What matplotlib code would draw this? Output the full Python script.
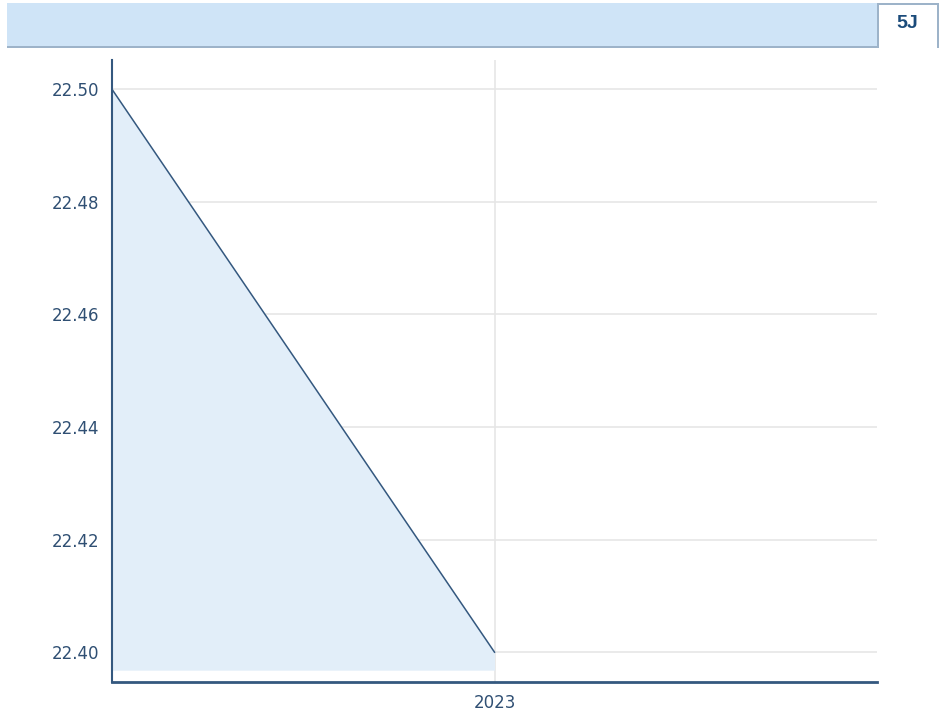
import matplotlib
matplotlib.use('Agg')
import matplotlib.pyplot as plt
from matplotlib.patches import Rectangle

# data
years = ['', '2023']
values = [22.50, 22.40]
y_ticks = [22.40, 22.42, 22.44, 22.46, 22.48, 22.50]
tab_label = '5J'

W, H = 949, 713
fig = plt.figure(figsize=(W / 100, H / 100), dpi=100)

def px(x, y, w, h):
    # pixel box (top-left origin) -> figure fraction
    return (x / W, 1 - (y + h) / H, w / W, h / H)

# header band
x0, y0, w0, h0 = px(7, 3, 870, 44)
fig.patches.append(Rectangle((x0, y0), w0, h0, transform=fig.transFigure,
                             facecolor='#cfe4f7', edgecolor='none'))
x0, y0, w0, h0 = px(7, 46, 870, 2)
fig.patches.append(Rectangle((x0, y0), w0, h0, transform=fig.transFigure,
                             facecolor='#9db3c9', edgecolor='none'))
# tab
for bx, by, bw, bh in [(877, 3, 2, 45), (877, 3, 62, 2), (937, 3, 2, 45)]:
    x0, y0, w0, h0 = px(bx, by, bw, bh)
    fig.patches.append(Rectangle((x0, y0), w0, h0, transform=fig.transFigure,
                                 facecolor='#9db3c9', edgecolor='none'))
fig.text(907 / W, 1 - 24 / H, tab_label, ha='center', va='center',
         fontsize=14, fontweight='bold', color='#1b4b7a', family='Liberation Sans')

ax = fig.add_axes([112 / W, 31 / H, (877 - 112) / W, (682 - 60) / H])
xs = list(range(len(values)))
base = 22.3968
ax.fill_between(xs, values, base, color='#e2eef9', zorder=1, linewidth=0)
ax.plot(xs, values, color='#34587f', linewidth=1.1, zorder=3)

ax.set_xlim(0, 2)
ax.set_ylim(22.3947, 22.5052)
ax.set_yticks(y_ticks)
ax.set_yticklabels([f'{v:.2f}' for v in y_ticks])
ax.set_xticks(xs)
ax.set_xticklabels(years)

ax.grid(True, color='#e6e6e6', linewidth=1.2, zorder=0)
ax.set_axisbelow(True)
ax.tick_params(length=0, labelsize=12, labelcolor='#2f4f73')
ax.tick_params(axis='y', pad=9)
ax.tick_params(axis='x', pad=9)
for lbl in ax.get_yticklabels() + ax.get_xticklabels():
    lbl.set_family('DejaVu Sans')
ax.xaxis.get_major_ticks()[0].gridline.set_visible(False)

for s in ['top', 'right']:
    ax.spines[s].set_visible(False)
ax.spines['left'].set_color('#34587f')
ax.spines['bottom'].set_color('#34587f')
ax.spines['left'].set_linewidth(1.5)
ax.spines['bottom'].set_linewidth(2)

fig.savefig('out.png', dpi=100)
